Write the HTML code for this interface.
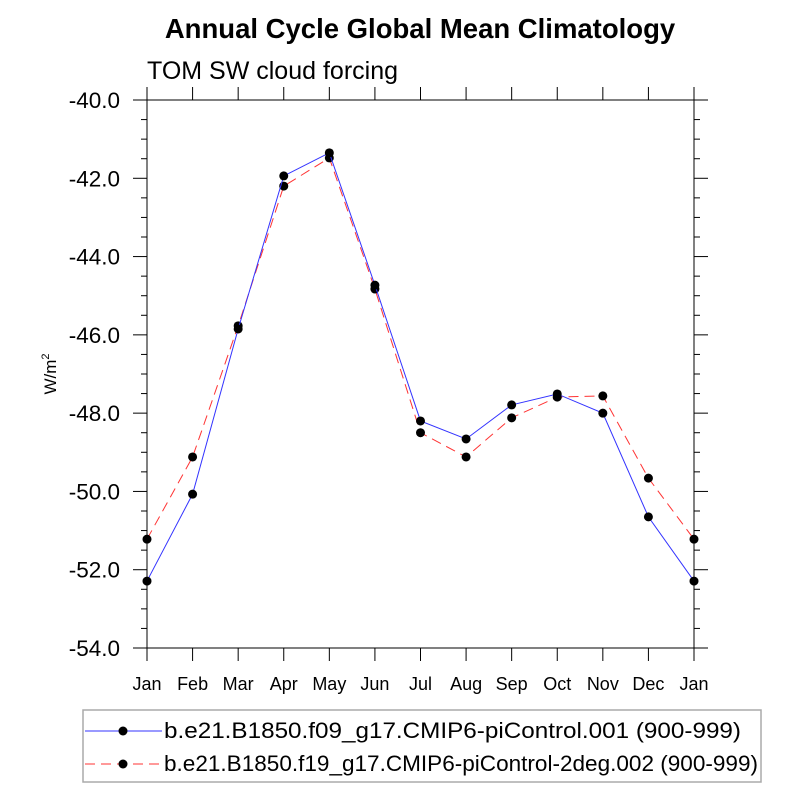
<!DOCTYPE html>
<html><head><meta charset="utf-8"><style>
body{margin:0;background:#fff}
svg{font-family:"Liberation Sans",sans-serif}
</style></head><body>
<svg id="c" width="800" height="800" xmlns="http://www.w3.org/2000/svg">
<text x="420" y="38" text-anchor="middle" font-size="27.5" font-weight="bold">Annual Cycle Global Mean Climatology</text>
<text x="147" y="79" font-size="25">TOM SW cloud forcing</text>
<text transform="translate(56,374) rotate(-90)" text-anchor="middle" font-size="17">W/m<tspan dy="-7" font-size="11">2</tspan></text>
<g id="axes"></g><g id="series"></g>
<rect x="83" y="710" width="678" height="72" fill="none" stroke="#aaa" stroke-width="1.5"/>
<g>
<line x1="85" y1="731" x2="162" y2="731" stroke="#3333ff" stroke-width="1"/>
<circle cx="123" cy="731" r="4.5" fill="#000"/>
<text x="164" y="738" font-size="22" textLength="577" lengthAdjust="spacingAndGlyphs">b.e21.B1850.f09_g17.CMIP6-piControl.001 (900-999)</text></g>
<g>
<line x1="85" y1="764" x2="162" y2="764" stroke="#ff3333" stroke-width="1" stroke-dasharray="10,6"/>
<circle cx="123" cy="764" r="4.5" fill="#000"/>
<text x="164" y="771" font-size="22" textLength="594" lengthAdjust="spacingAndGlyphs">b.e21.B1850.f19_g17.CMIP6-piControl-2deg.002 (900-999)</text></g>
</svg>
<script>
const months=["Jan","Feb","Mar","Apr","May","Jun","Jul","Aug","Sep","Oct","Nov","Dec","Jan"];
const blueVals=[-52.29,-50.07,-45.85,-41.94,-41.35,-44.73,-48.2,-48.66,-47.79,-47.51,-48.0,-50.65,-52.29];
const redVals=[-51.22,-49.12,-45.77,-42.2,-41.48,-44.83,-48.5,-49.12,-48.12,-47.59,-47.56,-49.66,-51.22];
const yTicks=[-40,-42,-44,-46,-48,-50,-52,-54];
const NS="http://www.w3.org/2000/svg";
const L=147,R=694,T=100,B=648,ymax=-40,ymin=-54;
const xs=i=>L+(R-L)*i/(months.length-1);
const ys=v=>T+(ymax-v)/(ymax-ymin)*(B-T);
function mk(tag,at,parent){const e=document.createElementNS(NS,tag);for(const k in at)e.setAttribute(k,at[k]);parent.appendChild(e);return e;}
const ax=document.getElementById('axes');
const frame=mk('rect',{x:L,y:T,width:R-L,height:B-T,fill:'none',stroke:'#000','stroke-width':1},ax);


for(let v=ymax;v>=ymin-1e-9;v-=0.5){
  const major=Math.abs(v/2-Math.round(v/2))<1e-6, len=major?14:6, y=ys(v);
  const t1=mk('line',{x1:L-len,y1:y,x2:L,y2:y,stroke:'#000'},ax);
  
  
  const t2=mk('line',{x1:R,y1:y,x2:R+len,y2:y,stroke:'#000'},ax);
  
  
}
yTicks.forEach(v=>{const t=mk('text',{x:120,y:ys(v)+8,'text-anchor':'end','font-size':22.5},ax);t.textContent=v.toFixed(1);

});
months.forEach((m,i)=>{const x=xs(i);
const a=mk('line',{x1:x,y1:B,x2:x,y2:B+13,stroke:'#000'},ax);


const b=mk('line',{x1:x,y1:T-13,x2:x,y2:T,stroke:'#000'},ax);


const t=mk('text',{x:x,y:690,'text-anchor':'middle','font-size':18},ax);t.textContent=m;

});
const sg=document.getElementById('series');
function series(vals,color,dash,name){
  const p=mk('polyline',{points:vals.map((v,i)=>xs(i)+','+ys(v)).join(' '),fill:'none',stroke:color,'stroke-width':1,'stroke-dasharray':dash},sg);
  
  
  vals.forEach((v,i)=>{const c=mk('circle',{cx:xs(i),cy:ys(v),r:4.5,fill:'#000'},sg);
  
  });
}
series(redVals,'#ff3333','10,6','red-series');
series(blueVals,'#3333ff','none','blue-series');
</script>
</body></html>
